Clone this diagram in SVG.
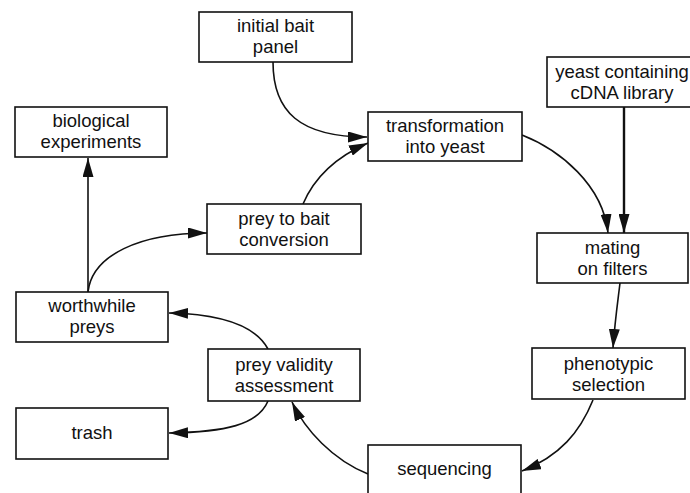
<svg xmlns="http://www.w3.org/2000/svg" width="690" height="493" viewBox="0 0 690 493">
<style>
.box{fill:#fff;stroke:#111;stroke-width:1.6}
.t{font-family:"Liberation Sans",Arial,sans-serif;font-size:18.5px;fill:#111;text-anchor:middle}
.c{fill:none;stroke:#111;stroke-width:1.6}
</style>
<defs>
<marker id="ah" markerUnits="userSpaceOnUse" markerWidth="20" markerHeight="11" refX="19" refY="5.5" orient="auto">
<path d="M0,0 L19,5.5 L0,11 z" fill="#111"/>
</marker>
</defs>
<rect width="690" height="493" fill="#fff"/>
<g id="connectors">
<path class="c" d="M273,62 C273,112 300,137 367,137" marker-end="url(#ah)"/>
<path class="c" d="M303,204 C315,176 338,156 368,143" marker-end="url(#ah)"/>
<path class="c" d="M522,135 C560,150 603,185 608,233" marker-end="url(#ah)"/>
<path class="c" d="M624,107 L624,233" style="stroke-width:2.4" marker-end="url(#ah)"/>
<path class="c" d="M620,283 C618,300 615,320 613,348" marker-end="url(#ah)"/>
<path class="c" d="M593,400 C580,432 560,456 522,471" marker-end="url(#ah)"/>
<path class="c" d="M368,474 C333,460 305,430 292,402" marker-end="url(#ah)"/>
<path class="c" d="M268,401 C258,425 225,432 169,433" marker-end="url(#ah)"/>
<path class="c" d="M268,349 C255,325 220,314 169,313" marker-end="url(#ah)"/>
<path class="c" d="M88,292 L88,158" marker-end="url(#ah)"/>
<path class="c" d="M88,292 C92,255 140,233 207,233" marker-end="url(#ah)"/>
</g>
<g id="initial-bait-panel">
<rect class="box" x="199" y="12" width="153" height="50"/>
<text class="t" x="275.5" y="32">initial bait</text>
<text class="t" x="275.5" y="53">panel</text>
</g>
<g id="yeast-cdna-library">
<rect class="box" x="547" y="57" width="150" height="50"/>
<text class="t" x="622" y="78">yeast containing</text>
<text class="t" x="622" y="99">cDNA library</text>
</g>
<g id="transformation">
<rect class="box" x="368" y="112" width="154" height="49"/>
<text class="t" x="445" y="132">transformation</text>
<text class="t" x="445" y="153">into yeast</text>
</g>
<g id="mating">
<rect class="box" x="537" y="233" width="151" height="50"/>
<text class="t" x="612.5" y="254">mating</text>
<text class="t" x="612.5" y="275">on filters</text>
</g>
<g id="phenotypic-selection">
<rect class="box" x="532" y="348" width="153" height="51"/>
<text class="t" x="608.5" y="370">phenotypic</text>
<text class="t" x="608.5" y="391">selection</text>
</g>
<g id="sequencing">
<rect class="box" x="368" y="445" width="153" height="52"/>
<text class="t" x="444.5" y="475">sequencing</text>
</g>
<g id="prey-to-bait">
<rect class="box" x="207" y="204" width="154" height="50"/>
<text class="t" x="284" y="225">prey to bait</text>
<text class="t" x="284" y="246">conversion</text>
</g>
<g id="biological-experiments">
<rect class="box" x="15" y="107" width="152" height="50"/>
<text class="t" x="91" y="127">biological</text>
<text class="t" x="91" y="148">experiments</text>
</g>
<g id="worthwhile-preys">
<rect class="box" x="16" y="292" width="152" height="50"/>
<text class="t" x="92" y="312">worthwhile</text>
<text class="t" x="92" y="333">preys</text>
</g>
<g id="prey-validity">
<rect class="box" x="208" y="349" width="152" height="52"/>
<text class="t" x="284" y="371">prey validity</text>
<text class="t" x="284" y="392">assessment</text>
</g>
<g id="trash">
<rect class="box" x="16" y="408" width="152" height="51"/>
<text class="t" x="92" y="439">trash</text>
</g>
</svg>
